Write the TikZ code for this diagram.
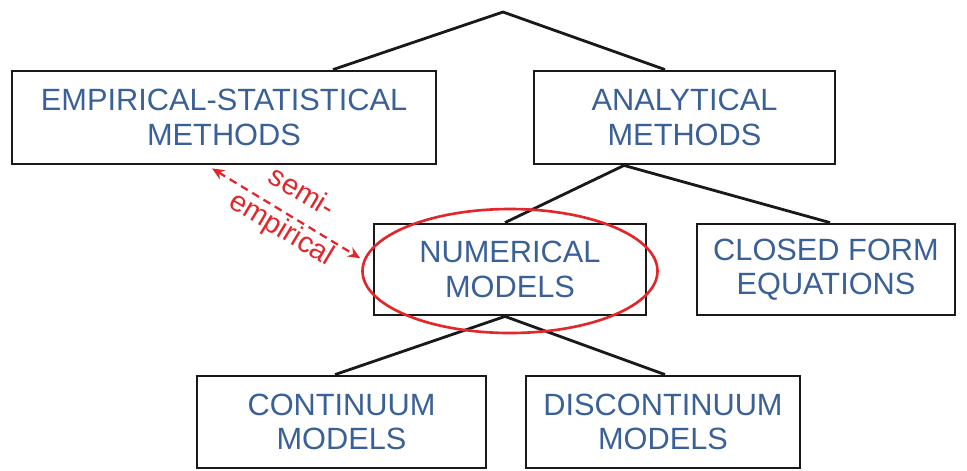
\documentclass[tikz,border=0pt]{standalone}
\usepackage{fontspec}
\setmainfont{Liberation Sans}
\usetikzlibrary{shapes.geometric,arrows.meta}
\definecolor{txtblue}{RGB}{58,96,152}
\definecolor{hired}{RGB}{226,38,42}
\begin{document}
\begin{tikzpicture}[
  box/.style={draw=black!90, line width=1.6pt, align=center, text=txtblue,
    font=\fontsize{17.5}{19.5}\selectfont, inner sep=0pt},
  link/.style={draw=black!90, line width=1.6pt},
  redlbl/.style={text=hired, font=\fontsize{16.5}{18}\selectfont, rotate=-31, inner sep=0pt}
]
\useasboundingbox (0,0) rectangle (19.34,-9.4);
\coordinate (apex) at (10.06,-0.24);
\node[box, minimum width=8.48cm, minimum height=1.86cm] (emp) at (4.48,-2.35) {EMPIRICAL-STATISTICAL\\METHODS};
\node[box, minimum width=6.02cm, minimum height=1.86cm] (ana) at (13.69,-2.35) {ANALYTICAL\\METHODS};
\node[box, minimum width=5.44cm, minimum height=1.82cm] (num) at (10.20,-5.39) {NUMERICAL\\MODELS};
\node[box, minimum width=5.16cm, minimum height=1.82cm] (cfe) at (16.52,-5.39) {CLOSED FORM\\EQUATIONS};
\node[box, minimum width=5.78cm, minimum height=1.84cm] (cont) at (6.83,-8.44) {CONTINUUM\\MODELS};
\node[box, minimum width=5.48cm, minimum height=1.84cm] (disc) at (13.26,-8.44) {DISCONTINUUM\\MODELS};
\draw[link] ([xshift=2.18cm]emp.north) -- (apex) -- ([xshift=-0.39cm]ana.north);
\draw[link] (num.north -| 10.1,0) -- ([xshift=-1.21cm]ana.south) -- ([xshift=0.08cm]cfe.north);
\draw[link] ([xshift=-0.13cm]cont.north) -- ([xshift=-0.1cm]num.south) -- ([xshift=0.04cm]disc.north);
\node[ellipse, draw=hired, line width=1.5pt, minimum width=5.9cm, minimum height=2.48cm, inner sep=0pt] (ell) at (10.2,-5.42) {};
\draw[hired, line width=1.3pt, dash pattern=on 4.5pt off 3pt, {Stealth[length=7pt,width=6pt]}-{Stealth[length=7pt,width=6pt]}]
  ([xshift=-0.24cm,yshift=-0.06cm]emp.south) -- ([xshift=-0.08cm]ell.175);
\node[redlbl] (semi) at (6.05,-3.82) {semi-};
\node[redlbl] (empl) at (5.62,-4.6) {empirical};
\end{tikzpicture}
\end{document}
